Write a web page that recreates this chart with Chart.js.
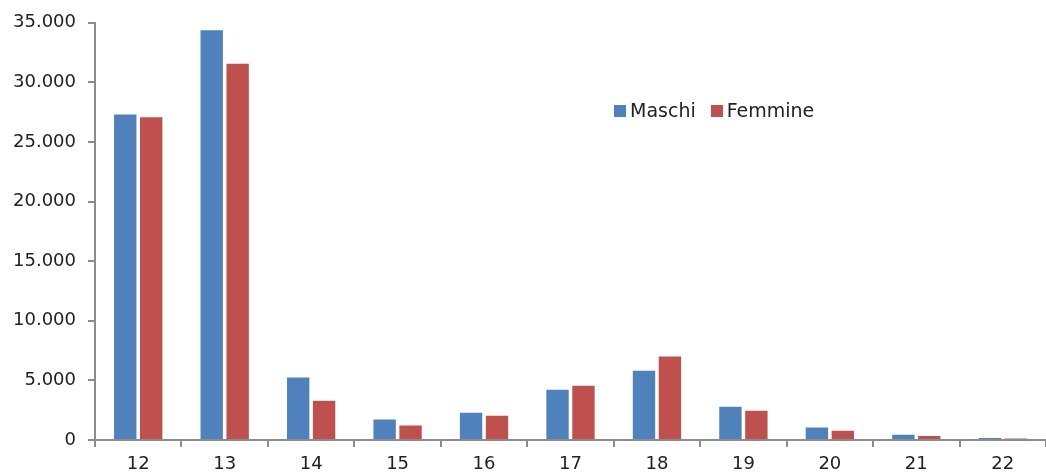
<!DOCTYPE html>
<html lang="it">
<head>
    <meta charset="UTF-8">
    <title>Maschi e Femmine per età</title>
    <script src="https://cdn.jsdelivr.net/npm/chart.js"></script>
    <style>
        body {
            margin: 0;
            background: #ffffff;
            font-family: "DejaVu Sans", sans-serif;
        }
        .wrap {
            position: relative;
            width: 1046px;
            height: 476px;
        }
        #legend {
            position: absolute;
            left: 614px;
            top: 99px;
            font-size: 19px;
            color: #222;
            display: flex;
            gap: 15px;
        }
        #legend span.box {
            display: inline-block;
            width: 12px;
            height: 12px;
            margin-right: 4px;
        }
    </style>
</head>
<body>
    <div class="wrap">
        <canvas id="chart" width="1046" height="476"></canvas>
        <div id="legend"></div>
    </div>

    <script>
        // dati
        const eta = ['12', '13', '14', '15', '16', '17', '18', '19', '20', '21', '22'];
        const maschi = [27400, 34450, 5330, 1800, 2380, 4300, 5900, 2880, 1130, 520, 240];
        const femmine = [27150, 31650, 3380, 1290, 2120, 4630, 7080, 2540, 860, 410, 160];
        const yTicks = [0, 5000, 10000, 15000, 20000, 25000, 30000, 35000];

        const blu = '#4f81bd';
        const rosso = '#c0504d';

        const fmt = v => String(v).replace(/\B(?=(\d{3})+(?!\d))/g, '.');

        const ctx = document.getElementById('chart').getContext('2d');
        const chart = new Chart(ctx, {
            type: 'bar',
            data: {
                labels: eta,
                datasets: [{
                    label: 'Maschi',
                    data: maschi,
                    backgroundColor: blu,
                    borderColor: 'rgba(255,255,255,0.5)',
                    borderWidth: 1,
                    categoryPercentage: 0.6,
                    barPercentage: 0.94
                }, {
                    label: 'Femmine',
                    data: femmine,
                    backgroundColor: rosso,
                    borderColor: 'rgba(255,255,255,0.5)',
                    borderWidth: 1,
                    categoryPercentage: 0.6,
                    barPercentage: 0.94
                }]
            },
            options: {
                responsive: false,
                animation: false,
                layout: { padding: { top: 22, right: 0, left: 0, bottom: 0 } },
                plugins: {
                    legend: { display: false },
                    tooltip: { enabled: false }
                },
                scales: {
                    x: {
                        grid: {
                            offset: true,
                            drawOnChartArea: false,
                            drawTicks: true,
                            tickLength: 7,
                            color: '#8c8c8c',
                            lineWidth: 2
                        },
                        border: { color: '#8c8c8c', width: 2 },
                        ticks: {
                            color: '#222',
                            font: { family: 'DejaVu Sans', size: 18 },
                            padding: 7,
                            maxRotation: 0
                        },
                        afterFit: s => { s.height = 36; }
                    },
                    y: {
                        min: 0,
                        max: 35000,
                        afterBuildTicks: s => { s.ticks = yTicks.map(v => ({ value: v })); },
                        grid: {
                            drawOnChartArea: false,
                            drawTicks: true,
                            tickLength: 7,
                            color: '#8c8c8c',
                            lineWidth: 2
                        },
                        border: { color: '#8c8c8c', width: 2 },
                        ticks: {
                            color: '#222',
                            font: { family: 'DejaVu Sans', size: 18 },
                            padding: 12,
                            callback: v => fmt(v)
                        },
                        afterFit: s => { s.width = 95; }
                    }
                }
            }
        });

        // legenda HTML
        const legend = document.getElementById('legend');
        chart.data.datasets.forEach(ds => {
            const item = document.createElement('div');
            item.innerHTML = '<span class="box" style="background:' + ds.backgroundColor + '"></span>' + ds.label;
            legend.appendChild(item);
        });
    </script>
</body>
</html>
